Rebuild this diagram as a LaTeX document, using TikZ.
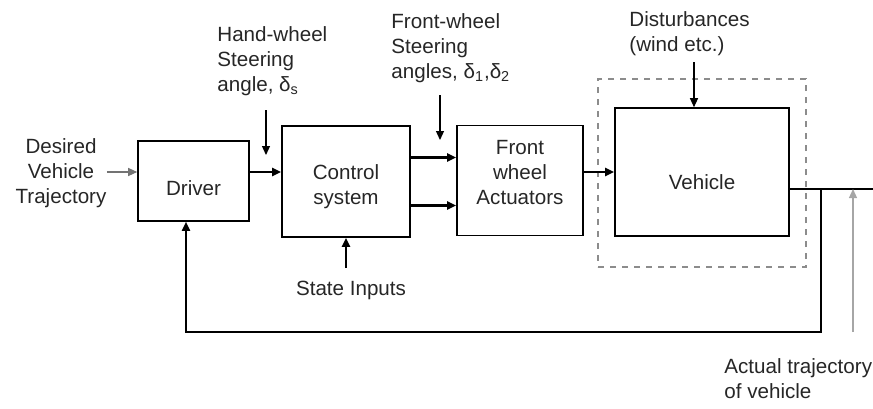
\documentclass[tikz,border=0pt]{standalone}
\usepackage{fontspec}
\setmainfont{Liberation Sans}
\usetikzlibrary{arrows.meta}
\definecolor{txtc}{gray}{0.15}
\definecolor{linec}{gray}{0.45}
\definecolor{lightc}{gray}{0.65}
\definecolor{dashc}{gray}{0.55}
\tikzset{
  blk/.style={draw, line width=0.8pt, inner sep=0pt},
  lbl/.style={text=txtc, inner sep=0pt, align=left},
  arr/.style={line width=1.3pt, -{Triangle[length=4.5pt,width=4pt]}},
  tarr/.style={line width=0.6pt, -{Triangle[length=4.5pt,width=4pt]}},
  garr/.style={draw=linec, line width=0.6pt, -{Triangle[length=4.5pt,width=4pt]}}
}
\begin{document}
\begin{tikzpicture}[x=0.5pt, y=-0.5pt, font=\fontsize{10.3pt}{12.5pt}\selectfont]
\useasboundingbox (0,0) rectangle (873,408);

\node[blk, minimum width=55.5pt, minimum height=40pt] (drv) at (193.5,181) {};
\node[blk, minimum width=64pt, minimum height=55.5pt] (ctl) at (346,181.5) {};
\node[blk, minimum width=63pt, minimum height=55pt] (act) at (520,180.5) {};
\node[blk, minimum width=87pt, minimum height=64pt] (veh) at (702,172) {};
\node[draw=dashc, dashed, line width=0.7pt, minimum width=104pt, minimum height=94pt] (vbox) at (702,173) {};

\node[lbl, align=center] (drvt) at ([yshift=-3.5pt]drv.center) {Driver};
\node[lbl, align=center] (ctlt) at ([yshift=-2.5pt]ctl.center) {Control\\system};
\node[lbl, align=center] (actt) at ([yshift=4pt]act.center) {Front\\wheel\\Actuators};
\node[lbl, align=center] (veht) at ([yshift=-5pt]veh.center) {Vehicle};

\node[lbl, align=center, anchor=north] (des) at (61,138) {Desired\\Vehicle\\Trajectory};
\node[lbl, anchor=north west] (hw) at (217,26) {Hand-wheel\\Steering\\angle, δ\textsubscript{s}};
\node[lbl, anchor=north west] (fw) at (391,13) {Front-wheel\\Steering\\angles, δ\textsubscript{1},δ\textsubscript{2}};
\node[lbl, anchor=north west] (dist) at (629,11) {Disturbances\\(wind etc.)};
\node[lbl, anchor=north] (sin) at (351,281) {State Inputs};
\node[lbl, anchor=north west] (act2) at (724,358) {Actual trajectory\\of vehicle};

\coordinate (din) at ([yshift=4.5pt]drv.west);
\coordinate (hwt) at (266,110);
\coordinate (fwt) at (440,95);
\coordinate (dtop) at (694,62);
\coordinate (split) at (821,189);
\coordinate (oend) at (873,189);
\coordinate (fbc) at (821,332);
\coordinate (atb) at (853,332);

\draw[garr] (des.east |- din) -- (din);
\draw[arr] ([yshift=4.5pt]drv.east) -- ([yshift=4.5pt]drv.east -| ctl.west);
\draw[tarr] (hwt) -- ++(0,45);
\draw[arr] ([yshift=12pt]ctl.east) -- ([yshift=12pt]ctl.east -| act.west);
\draw[arr] ([yshift=-12pt]ctl.east) -- ([yshift=-12pt]ctl.east -| act.west);
\draw[tarr] (fwt) -- ++(0,45);
\draw[arr] (act.east |- veh.west) -- (veh.west);
\draw[tarr] (dtop) -- (dtop |- veh.north);
\draw[arr] ([yshift=6.5pt]sin.north -| ctl.south) -- (ctl.south);
\draw[line width=0.9pt] ([yshift=-8.5pt]veh.east) -- (oend);
\draw[line width=0.9pt, -{Triangle[length=4.5pt,width=4pt]}] (split) -- (fbc) -| ([xshift=-3.75pt]drv.south);
\draw[garr, draw=lightc] (atb) -- (split -| atb);
\end{tikzpicture}
\end{document}
